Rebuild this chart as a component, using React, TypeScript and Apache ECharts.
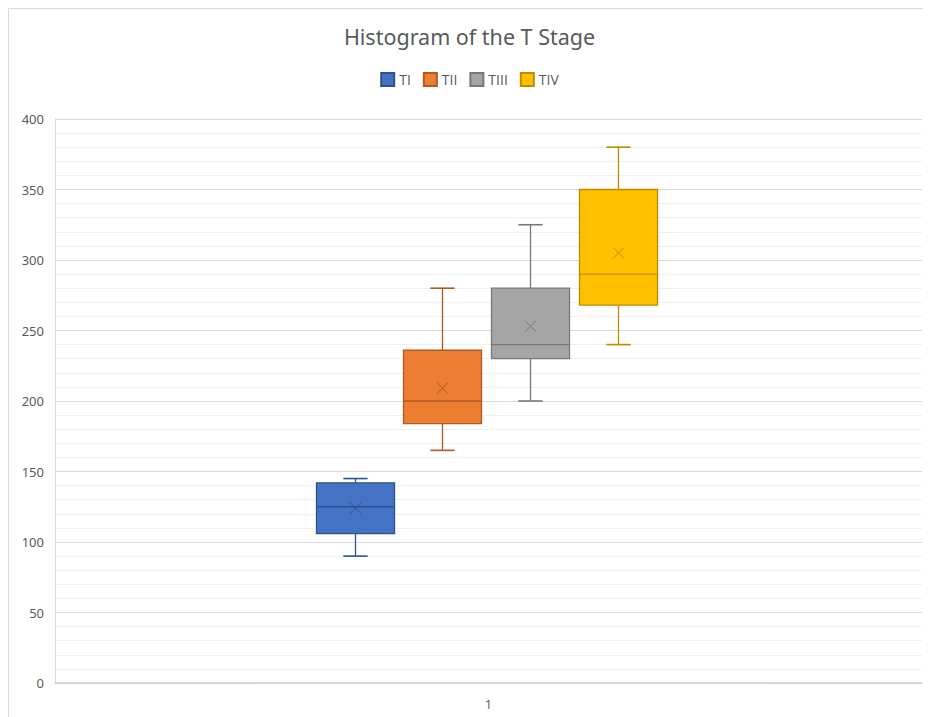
import React, { useEffect, useRef } from "react";
import * as echarts from "echarts";

// ---- data ----
const CATEGORIES = ["1"];
const SERIES_NAMES = ["TI", "TII", "TIII", "TIV"];
// [min, Q1, median, Q3, max]
const TI_BOX = [90, 106, 125, 142, 145];
const TII_BOX = [165, 184, 200, 236, 280];
const TIII_BOX = [200, 230, 240, 280, 325];
const TIV_BOX = [240, 268, 290, 350, 380];
const MEANS = [124, 209, 253, 305];
const Y_TICKS = [0, 50, 100, 150, 200, 250, 300, 350, 400];

// ---- styles / layout ----
const FILLS = ["#4472C4", "#ED7D31", "#A5A5A5", "#FFC000"];
const BORDERS = ["#2F528F", "#AE5A21", "#787878", "#BC8C00"];
const BOX_OFFSETS = [-0.1542, -0.0536, 0.0479, 0.1499]; // fraction of band width
const BOX_WIDTH = 0.09;
const CAP_WIDTH = 0.028;
const TEXT = "#595959";
const FONT = "Noto Sans";
const FONT2 = "Open Sans";

const BOXES = [TI_BOX, TII_BOX, TIII_BOX, TIV_BOX];

function makeRender(idx: number) {
  return (params: any, api: any) => {
    const bw = api.size([1, 0])[0];
    const xv = api.value(0);
    const base = api.coord([xv, 0]);
    const cx = Math.round(base[0] + BOX_OFFSETS[idx] * bw) + 0.5;
    const half = (BOX_WIDTH * bw) / 2;
    const capHalf = (CAP_WIDTH * bw) / 2;
    const yOf = (d: number) => api.coord([xv, api.value(d)])[1];
    const yMin = yOf(1), yQ1 = yOf(2), yMed = yOf(3), yQ3 = yOf(4), yMax = yOf(5), yMean = yOf(6);
    const stroke = BORDERS[idx];
    const ls = { stroke, lineWidth: 1.3 };
    const m = 5.5;
    return {
      type: "group",
      children: [
        { type: "line", shape: { x1: cx, y1: yMax, x2: cx, y2: yQ3 }, style: ls },
        { type: "line", shape: { x1: cx, y1: yMin, x2: cx, y2: yQ1 }, style: ls },
        { type: "line", shape: { x1: cx - capHalf, y1: yMax, x2: cx + capHalf, y2: yMax }, style: { stroke, lineWidth: 1.6 } },
        { type: "line", shape: { x1: cx - capHalf, y1: yMin, x2: cx + capHalf, y2: yMin }, style: { stroke, lineWidth: 1.6 } },
        {
          type: "rect",
          shape: { x: cx - half, y: yQ3, width: half * 2, height: yQ1 - yQ3 },
          style: { fill: FILLS[idx], stroke, lineWidth: 1.3 },
        },
        { type: "line", shape: { x1: cx - half, y1: yMed, x2: cx + half, y2: yMed }, style: ls },
        { type: "line", shape: { x1: cx - m, y1: yMean - m, x2: cx + m, y2: yMean + m }, style: { stroke, lineWidth: 1 } },
        { type: "line", shape: { x1: cx - m, y1: yMean + m, x2: cx + m, y2: yMean - m }, style: { stroke, lineWidth: 1 } },
      ],
    };
  };
}

export default function App() {
  const ref = useRef<HTMLDivElement>(null);
  useEffect(() => {
    if (!ref.current) return;
    const chart = echarts.init(ref.current, null, { renderer: "svg" });
    const series = SERIES_NAMES.map((name, i) => ({
      name,
      type: "custom",
      renderItem: makeRender(i),
      itemStyle: { color: FILLS[i], borderColor: BORDERS[i], borderWidth: 1 },
      encode: { x: 0, y: [1, 2, 3, 4, 5] },
      data: [[CATEGORIES[0], ...BOXES[i], MEANS[i]]],
      clip: false,
    }));
    chart.setOption({
      animation: false,
      backgroundColor: "#ffffff",
      textStyle: { fontFamily: FONT, color: TEXT },
      title: {
        text: "Histogram of the T Stage",
        left: "center",
        top: 12,
        textStyle: { fontFamily: FONT, fontSize: 21.5, fontWeight: "normal", color: TEXT },
      },
      legend: {
        data: SERIES_NAMES,
        top: 59,
        left: "center",
        icon: "rect",
        itemWidth: 13,
        itemHeight: 13,
        itemGap: 12,
        textStyle: { fontFamily: FONT2, fontSize: 14, color: TEXT, fontWeight: "normal" },
      },
      graphic: [
        {
          type: "rect",
          shape: { x: 0.5, y: 0.5, width: 3000, height: 3000 },
          style: { fill: "none", stroke: "#d9d9d9", lineWidth: 1 },
          silent: true,
          z: -10,
        },
      ],
      grid: { left: 47, right: 9, top: 111, bottom: 34 },
      xAxis: {
        type: "category",
        data: CATEGORIES,
        axisLine: { show: true, lineStyle: { color: "#d0d0d0", width: 1.5 } },
        axisTick: { show: false },
        axisLabel: { color: TEXT, fontSize: 13, margin: 14, fontFamily: FONT2 },
        splitLine: { show: false },
      },
      yAxis: {
        type: "value",
        min: Y_TICKS[0],
        max: Y_TICKS[Y_TICKS.length - 1],
        interval: Y_TICKS[1] - Y_TICKS[0],
        axisLine: { show: true, lineStyle: { color: "#d9d9d9", width: 1 } },
        axisTick: { show: false },
        axisLabel: { color: TEXT, fontSize: 13, margin: 11, fontFamily: FONT },
        splitLine: { show: true, lineStyle: { color: "#d9d9d9", width: 1 } },
        minorTick: { show: false, splitNumber: 5 },
        minorSplitLine: { show: true, lineStyle: { color: "#f0f0f0", width: 1 } },
      },
      series,
    });
    return () => chart.dispose();
  }, []);
  return <div ref={ref} style={{ width: 923, height: 709 }} />;
}
